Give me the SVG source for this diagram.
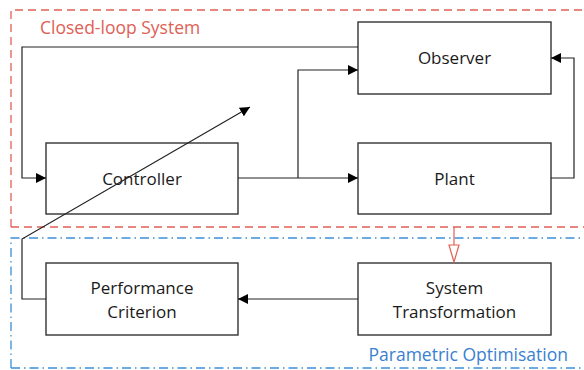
<svg xmlns="http://www.w3.org/2000/svg" width="584" height="370" viewBox="0 0 584 370">
  <style>
    .box { fill: #ffffff; stroke: #333333; stroke-width: 1.4; }
    .lbl { font-family: "Open Sans", "Liberation Sans", sans-serif; font-size: 17px; fill: #1a1a1a; text-anchor: middle; }
    .wire { fill: none; stroke: #222222; stroke-width: 1.2; }
    .grp { font-family: "Open Sans", "Liberation Sans", sans-serif; font-size: 17.5px; }
  </style>
  <defs>
    <marker id="arr" viewBox="0 0 10 10" refX="10" refY="5" markerWidth="10" markerHeight="10" markerUnits="userSpaceOnUse" orient="auto">
      <path d="M0,0 L10,5 L0,10 z" fill="#000000"/>
    </marker>
  </defs>
  <rect width="584" height="370" fill="#ffffff"/>

  <!-- group frames -->
  <g id="closed-loop-frame">
    <path d="M11,227 L11,10 L590,10 M11,227 L590,227" fill="none" stroke="#e06055" stroke-width="1.3" stroke-dasharray="8,5"/>
    <text class="grp" x="40" y="34" fill="#e06055">Closed-loop System</text>
  </g>
  <g id="optimisation-frame">
    <path d="M11,368 L11,238 L590,238 M11,368 L590,368" fill="none" stroke="#3b8fd9" stroke-width="1.3" stroke-dasharray="9,4,1.5,4"/>
    <text class="grp" x="568" y="361" fill="#3b7fd0" text-anchor="end">Parametric Optimisation</text>
  </g>

  <!-- nodes -->
  <g id="observer">
    <rect class="box" x="358" y="22" width="193" height="72"/>
    <text class="lbl" x="454.5" y="64">Observer</text>
  </g>
  <g id="controller">
    <rect class="box" x="46" y="143" width="192" height="71"/>
    <text class="lbl" x="142" y="185">Controller</text>
  </g>
  <g id="plant">
    <rect class="box" x="358" y="143" width="193" height="71"/>
    <text class="lbl" x="454.5" y="185">Plant</text>
  </g>
  <g id="performance-criterion">
    <rect class="box" x="46" y="263" width="192" height="72"/>
    <text class="lbl" x="142" y="294">Performance</text>
    <text class="lbl" x="142" y="318">Criterion</text>
  </g>
  <g id="system-transformation">
    <rect class="box" x="358" y="263" width="193" height="72"/>
    <text class="lbl" x="454.5" y="294">System</text>
    <text class="lbl" x="454.5" y="318">Transformation</text>
  </g>

  <!-- connectors, drawn last so the tuning diagonal crosses the controller -->
  <g id="connectors">
    <path class="wire" d="M358,47 L22,47 L22,178 L46,178" marker-end="url(#arr)"/>
    <path class="wire" d="M238,178 L358,178" marker-end="url(#arr)"/>
    <path class="wire" d="M298,178 L298,70 L358,70" marker-end="url(#arr)"/>
    <path class="wire" d="M551,178 L574,178 L574,58 L551,58" marker-end="url(#arr)"/>
    <path class="wire" d="M358,299 L238,299" marker-end="url(#arr)"/>
    <path class="wire" d="M46,299 L22,299 L22,239 L250,107" marker-end="url(#arr)"/>
    <path d="M454,227 L454,245" fill="none" stroke="#e06055" stroke-width="1.2"/>
    <path d="M449,245 L459,245 L454,262 z" fill="#ffffff" stroke="#e06055" stroke-width="1.2"/>
  </g>
</svg>
